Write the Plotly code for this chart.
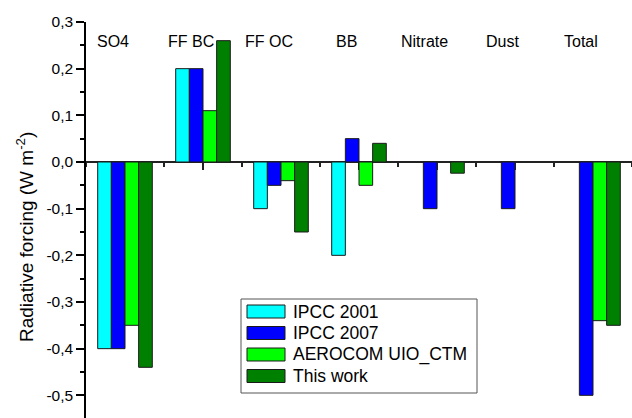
import plotly.graph_objects as go

# Aerosol components and radiative forcing estimates (W m-2)
categories = ["SO4", "FF BC", "FF OC", "BB", "Nitrate", "Dust", "Total"]
series_names = ["IPCC 2001", "IPCC 2007", "AEROCOM UIO_CTM", "This work"]
ipcc_2001 = [-0.40, 0.20, -0.10, -0.20, None, None, None]
ipcc_2007 = [-0.40, 0.20, -0.05, 0.05, -0.10, -0.10, -0.50]
aerocom_uio_ctm = [-0.35, 0.11, -0.04, -0.05, None, None, -0.34]
this_work = [-0.44, 0.26, -0.15, 0.04, -0.024, None, -0.35]
y_tick_values = [-0.5, -0.4, -0.3, -0.2, -0.1, 0.0, 0.1, 0.2, 0.3]
y_tick_labels = ["-0,5", "-0,4", "-0,3", "-0,2", "-0,1", "0,0", "0,1", "0,2", "0,3"]

colors = ["#00FFFF", "#0000FF", "#00FF00", "#008000"]
all_series = [ipcc_2001, ipcc_2007, aerocom_uio_ctm, this_work]

W, H = 632, 418
ML, MR, MT, MB = 86, 0, 22, 0
PW, PH = W - ML - MR, H - MT - MB
FONT = "Liberation Sans, Arial, sans-serif"


def px(x):
    return (x - ML) / PW


def py(y):
    return (H - MB - y) / PH


x_idx = list(range(len(categories)))

fig = go.Figure()
for name, vals, col in zip(series_names, all_series, colors):
    fig.add_trace(go.Bar(
        x=x_idx, y=vals, name=name, showlegend=False,
        marker=dict(color=col, line=dict(color="#1a1a1a", width=1)),
    ))

y_min, y_max = -0.5486, 0.3
zero_pos = (0 - y_min) / (y_max - y_min)

fig.update_layout(
    width=W, height=H,
    margin=dict(l=ML, r=MR, t=MT, b=MB, pad=0),
    paper_bgcolor="white", plot_bgcolor="white",
    barmode="group", bargap=0.3, bargroupgap=0,
    font=dict(family=FONT, size=15, color="black"),
    xaxis=dict(
        range=[-0.5, len(categories) - 0.5],
        anchor="free", position=zero_pos,
        showline=True, linecolor="#222", linewidth=1.5,
        ticks="outside", tickvals=x_idx, ticklen=7, tickwidth=1.5, tickcolor="#222",
        minor=dict(tick0=-0.5, dtick=1, ticks="outside", ticklen=4, tickwidth=1.5, tickcolor="#222"),
        showticklabels=False, showgrid=False, zeroline=False,
        layer="below traces",
    ),
    yaxis=dict(
        range=[y_min, y_max],
        showline=True, linecolor="black", linewidth=1.5,
        ticks="outside", tickvals=y_tick_values, ticktext=y_tick_labels,
        ticklen=8, tickwidth=1.5, tickcolor="black",
        minor=dict(tick0=0.05, dtick=0.1, ticks="outside", ticklen=4, tickwidth=1.5, tickcolor="black"),
        tickfont=dict(size=15.5),
        showgrid=False, zeroline=False,
    ),
)

# Category names along the top
for i, c in enumerate(categories):
    fig.add_annotation(x=i - 0.16, y=0.258, xref="x", yref="y", text=c,
                       showarrow=False, font=dict(size=16), xanchor="center", yanchor="middle")

# Y-axis title
fig.add_annotation(x=px(25), y=py(237), xref="paper", yref="paper",
                   text="Radiative forcing (W m<sup>-2</sup>)", textangle=-90,
                   showarrow=False, font=dict(size=19), xanchor="center", yanchor="middle")

# Legend box with wide colour swatches
fig.add_shape(type="rect", xref="paper", yref="paper",
              x0=px(241), x1=px(477), y0=py(393), y1=py(299),
              line=dict(color="#555", width=1), fillcolor="white", layer="above")
row_centers = [311.5, 333, 354.5, 376]
for name, col, yc in zip(series_names, colors, row_centers):
    fig.add_shape(type="rect", xref="paper", yref="paper",
                  x0=px(247), x1=px(285), y0=py(yc + 6.5), y1=py(yc - 6.5),
                  line=dict(color="#1a1a1a", width=1), fillcolor=col, layer="above")
    fig.add_annotation(x=px(291), y=py(yc), xref="paper", yref="paper", text=name,
                       showarrow=False, font=dict(size=17.5), xanchor="left", yanchor="middle")

fig.write_html("out.html")
